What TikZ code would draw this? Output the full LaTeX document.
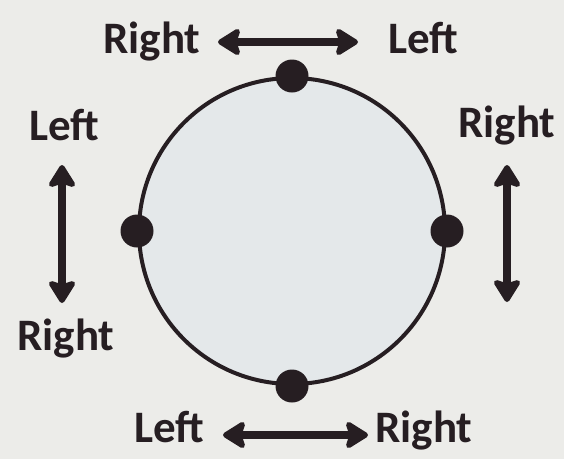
\documentclass[tikz,border=0pt]{standalone}
\usepackage{fontspec}
\setmainfont{Carlito}
\usetikzlibrary{arrows.meta, positioning}
\definecolor{inkDark}{RGB}{38, 30, 34}
\definecolor{paperBg}{RGB}{236, 236, 233}
\definecolor{ringFill}{RGB}{228, 232, 234}

\begin{document}
\begin{tikzpicture}[
    x=1pt, y=-1pt,
    lbl/.style={text=inkDark, font=\fontsize{45}{50}\selectfont\bfseries, anchor=base, inner sep=0pt},
    ring/.style={circle, draw=inkDark, fill=ringFill, line width=4pt, minimum size=306pt, inner sep=0pt},
    knob/.style={circle, fill=inkDark, minimum size=33pt, inner sep=0pt},
    dblarrow/.style={{Stealth[length=26pt, width=32pt, inset=5pt, round]}-{Stealth[length=26pt, width=32pt, inset=5pt, round]}, line width=8pt, draw=inkDark}
  ]
    % Background sheet
    \fill[paperBg] (0,0) rectangle (564,459);

    % Ring with its four knobs
    \node[ring] (ring) at (292,231) {};
    \node[knob] (kTop) at (ring.north) {};
    \node[knob] (kBot) at (ring.south) {};
    \node[knob] (kLeft) at (ring.west) {};
    \node[knob] (kRight) at (ring.east) {};

    % Labels
    \node[lbl] (topR) at (152,53) {Right};
    \node[lbl] (topL) at (423,53) {Left};
    \node[lbl] (leftL) at (64,140) {Left};
    \node[lbl] (leftR) at (66,350) {Right};
    \node[lbl] (rightR) at (507,137) {Right};
    \node[lbl] (botL) at (169,442) {Left};
    \node[lbl] (botR) at (424,442) {Right};

    % Arrow end points
    \coordinate (aTopW) at (218,42);
    \coordinate (aTopE) at (358,42);
    \coordinate (aLeftN) at (62,165);
    \coordinate (aLeftS) at (62,303);
    \coordinate (aRightN) at (507,165);
    \coordinate (aRightS) at (507,302);
    \coordinate (aBotW) at (223,435);
    \coordinate (aBotE) at (368,435);

    % Double-headed arrows
    \draw[dblarrow] (aTopW) -- (aTopE);
    \draw[dblarrow] (aLeftN) -- (aLeftS);
    \draw[dblarrow] (aRightN) -- (aRightS);
    \draw[dblarrow] (aBotW) -- (aBotE);
  \end{tikzpicture}
\end{document}
